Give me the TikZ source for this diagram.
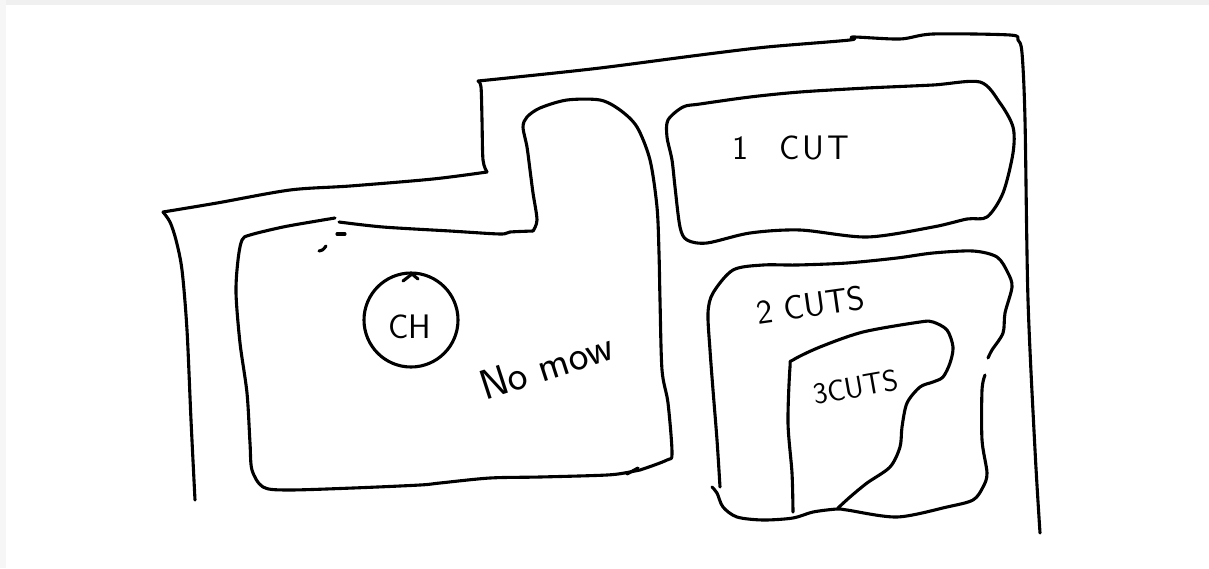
\documentclass[tikz,border=0pt]{standalone}
\begin{document}
\begin{tikzpicture}[x=1pt,y=-1pt,
  ink/.style={line width=3.1pt,line cap=round,line join=round,black},
  lbl/.style={font=\sffamily\fontsize{34}{34}\selectfont,inner sep=0pt}]
\useasboundingbox (0,0) rectangle (1209,568);
\fill[gray!12] (0,0) rectangle (1209,5);
\fill[gray!7] (0,0) rectangle (6,568);
% outer boundary
\draw[ink] plot[smooth,tension=0.5] coordinates {(195,500) (191,420) (187,330) (182,270) (176,240) (170,222) (163,212)};
\draw[ink] plot[smooth,tension=0.5] coordinates {(163,212) (217,203) (290,190) (350,186) (433,179) (487,172)};
\draw[ink] plot[smooth,tension=0.5] coordinates {(487,172) (483,160) (482,120) (481,87) (478,81)};
\draw[ink] plot[smooth,tension=0.5] coordinates {(478,81) (517,77) (600,68) (700,55) (767,47) (850,40) (853,37) (900,39) (933,34) (1010,35) (1018,40) (1022,53) (1025,120) (1028,300) (1035,450) (1040,533)};
% no mow region
\draw[ink] plot[smooth,tension=0.5] coordinates {(339,222) (383,227) (450,231) (500,234) (510,232) (533,231)};
\draw[ink] plot[smooth,tension=0.5] coordinates {(533,231) (537,220) (533,193) (530,170) (527,147) (523,127) (527,117) (540,108) (567,100) (600,100) (620,110) (637,127) (650,160) (657,207) (659,253) (660,300) (662,370) (668,403) (672,453) (667,460) (640,470) (630,472) (607,475) (540,477) (490,478) (440,483) (420,485) (353,488) (287,490) (263,487) (252,470) (250,443) (247,393) (240,343) (236,293) (238,260) (242,240) (250,235) (283,227) (317,221) (335,218)};
\draw[ink] (627,474) -- (638,468);
\draw[ink] (337,234) -- (345,234);
\draw[ink] (319,251) .. controls (323,250) .. (326,246);
% circle with CH
\node[ink,draw,circle,minimum size=94pt,inner sep=0pt] (ch) at (411,320) {};
\node[lbl] (chtext) at (410,327) {CH};
\draw[ink] (403,281) -- (412,274) -- (418,279);
% no mow text
\node[lbl,font=\sffamily\fontsize{42}{42}\selectfont,rotate=18] (nomow) at (546,366) {No mow};
% 1 cut
\draw[ink] plot[smooth cycle,tension=0.5] coordinates {(683,107) (700,104) (750,97) (800,92) (867,88) (933,85) (980,82) (1000,103) (1013,127) (1013,153) (1003,193) (987,217) (967,219) (933,227) (867,237) (800,230) (750,233) (707,243) (687,240) (680,227) (675,187) (672,160) (667,137) (668,120)};
\node[lbl] (onecut) at (791,148) {1\hspace{0.9em}C\hspace{0.08em}U\hspace{0.08em}T};
% 2 cuts
\draw[ink] plot[smooth,tension=0.5] coordinates {(720,487) (717,440) (713,390) (710,350) (708,313) (713,293) (733,270) (763,265) (797,265) (847,263) (897,258) (933,253) (973,251) (997,257) (1008,273) (1012,287) (1005,313) (1003,333) (992,350) (988,358)};
\draw[ink] plot[smooth,tension=0.5] coordinates {(985,375) (982,390) (982,440) (987,473) (983,487) (973,500) (947,507) (897,517) (847,510) (837,509) (813,512) (793,518) (763,520) (737,517) (723,507) (717,493) (712,487)};
\node[lbl,rotate=8] (twocuts) at (811,305) {2 CUTS};
% 3 cuts
\draw[ink] plot[smooth,tension=0.5] coordinates {(793,512) (792,473) (788,423) (790,367) (793,360) (820,347) (863,332) (920,322) (933,322) (947,330) (953,347) (950,363) (943,377) (933,382) (920,387) (907,403) (902,427) (900,447) (890,467) (867,483) (850,497) (838,508)};
\node[lbl,font=\sffamily\fontsize{30}{30}\selectfont,rotate=10] (threecuts) at (856,387) {3CUTS};
\end{tikzpicture}
\end{document}
